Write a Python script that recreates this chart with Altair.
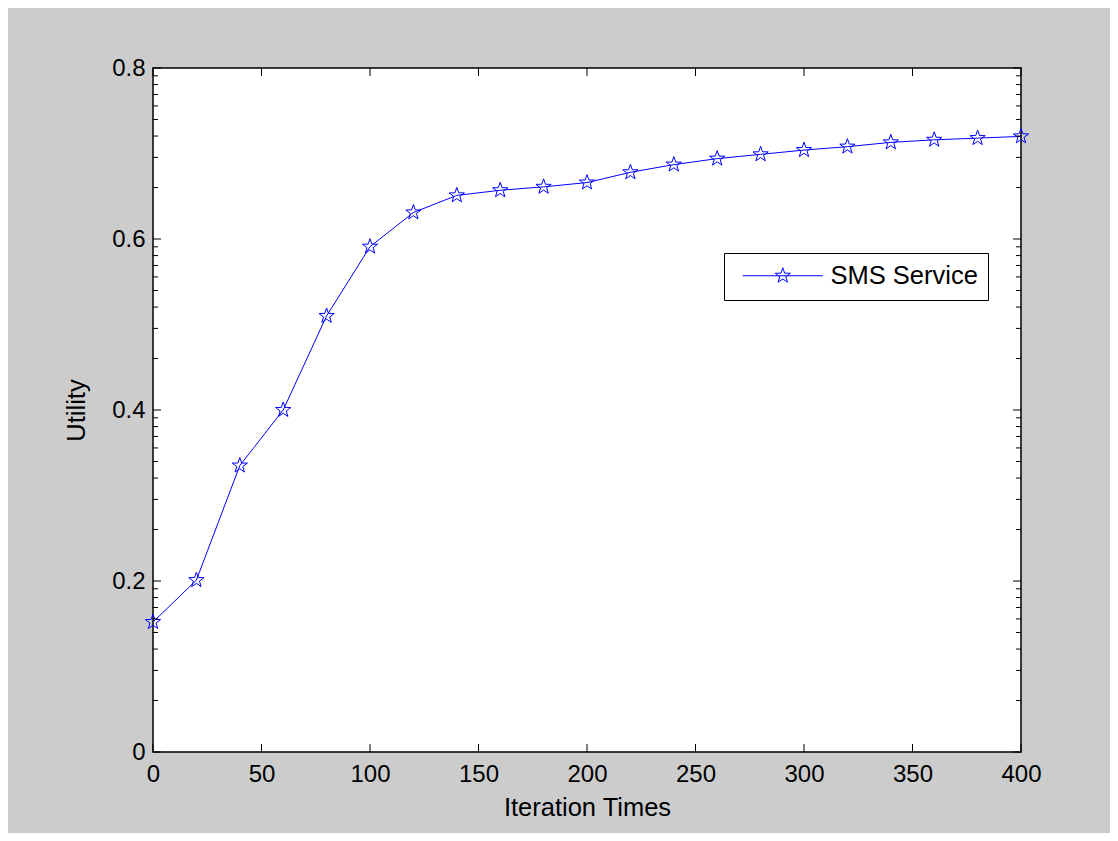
import math
import altair as alt
import pandas as pd

# ---- data ----
iterations = [0, 20, 40, 60, 80, 100, 120, 140, 160, 180, 200,
              220, 240, 260, 280, 300, 320, 340, 360, 380, 400]
utility = [0.152, 0.201, 0.335, 0.400, 0.510, 0.591, 0.631, 0.651, 0.657, 0.661, 0.666,
           0.678, 0.687, 0.694, 0.699, 0.704, 0.708, 0.713, 0.716, 0.718, 0.720]
series_name = "SMS Service"

x_ticks = [0, 50, 100, 150, 200, 250, 300, 350, 400]
y_ticks = [0, 0.2, 0.4, 0.6, 0.8]
# MATLAB-style (log-like) minor ticks between the major y ticks
y_minor = [a + 0.2 * math.log10(k) for a in [0, 0.2, 0.4, 0.6] for k in range(2, 10)]

W, H = 868, 684
FONT = "Liberation Sans"
BLUE = "#0000ff"


def star_path(r_out, r_in):
    pts = []
    for i in range(10):
        ang = math.radians(-90 + 36 * i)
        r = r_out if i % 2 == 0 else r_in
        pts.append(f"{r * math.cos(ang):.4f},{r * math.sin(ang):.4f}")
    return "M" + "L".join(pts) + "Z"


STAR = star_path(1.0, 0.40)
LEGEND_SYMBOL = "M-4,0L4,0" + star_path(0.8, 0.32)

df = pd.DataFrame({"Iteration": iterations, "Utility": utility,
                   "Series": [series_name] * len(iterations)})
xt = pd.DataFrame({"Iteration": x_ticks})
yt = pd.DataFrame({"Utility": y_ticks})
ym = pd.DataFrame({"Utility": y_minor})

xscale = alt.Scale(domain=[0, 400], nice=False, zero=False)
yscale = alt.Scale(domain=[0, 0.8], nice=False, zero=False)

color = alt.Color(
    "Series:N",
    scale=alt.Scale(domain=[series_name], range=[BLUE]),
    legend=alt.Legend(
        title=None, orient="none", legendX=571, legendY=185,
        fillColor="white", strokeColor="black", padding=10,
        symbolType=LEGEND_SYMBOL, symbolSize=400, symbolStrokeColor=BLUE,
        symbolFillColor="transparent", symbolStrokeWidth=1, symbolOffset=36,
        labelFont=FONT, labelFontSize=25.5, labelColor="black", labelOffset=35,
    ),
)

x_enc = alt.X("Iteration:Q", scale=xscale, title="Iteration Times",
              axis=alt.Axis(values=x_ticks, format="d", ticks=False, domain=False, grid=False,
                            labelPadding=10, labelFlush=False, labelOverlap=False,
                            titlePadding=9))
y_enc = alt.Y("Utility:Q", scale=yscale, title="Utility",
              axis=alt.Axis(values=y_ticks, format="~g", ticks=False, domain=False, grid=False,
                            labelPadding=8, labelFlush=False, labelOverlap=False,
                            titlePadding=22))

line = alt.Chart(df).mark_line(strokeWidth=1).encode(x=x_enc, y=y_enc, color=color)
points = alt.Chart(df).mark_point(shape=STAR, size=256, filled=False, strokeWidth=1, opacity=1).encode(
    x=alt.X("Iteration:Q"), y=alt.Y("Utility:Q"), color=color)

tick_color = "black"
xb = alt.Chart(xt).mark_rule(color=tick_color, strokeWidth=1).encode(
    x=alt.X("Iteration:Q"), y=alt.value(H), y2=alt.value(H - 8))
xtop = alt.Chart(xt).mark_rule(color=tick_color, strokeWidth=1).encode(
    x=alt.X("Iteration:Q"), y=alt.value(0), y2=alt.value(8))
yl = alt.Chart(yt).mark_rule(color=tick_color, strokeWidth=1).encode(
    y=alt.Y("Utility:Q"), x=alt.value(0), x2=alt.value(8))
yr = alt.Chart(yt).mark_rule(color=tick_color, strokeWidth=1).encode(
    y=alt.Y("Utility:Q"), x=alt.value(W), x2=alt.value(W - 8))
yml = alt.Chart(ym).mark_rule(color=tick_color, strokeWidth=1).encode(
    y=alt.Y("Utility:Q"), x=alt.value(0), x2=alt.value(5))
ymr = alt.Chart(ym).mark_rule(color=tick_color, strokeWidth=1).encode(
    y=alt.Y("Utility:Q"), x=alt.value(W), x2=alt.value(W - 5))

chart = alt.layer(line, points, xb, xtop, yl, yr, yml, ymr).properties(
    width=W, height=H,
    padding={"left": 145, "top": 60, "right": 89, "bottom": 81},
    autosize=alt.AutoSizeParams(type="none"),
    background="#cccccc",
).configure_view(
    fill="white", stroke="black", strokeWidth=1.5,
).configure_axis(
    labelFont=FONT, labelFontSize=24, labelColor="black",
    titleFont=FONT, titleFontSize=25.5, titleFontWeight="normal", titleColor="black",
)

chart.save("out.html", embed_options={"renderer": "svg", "actions": False})
